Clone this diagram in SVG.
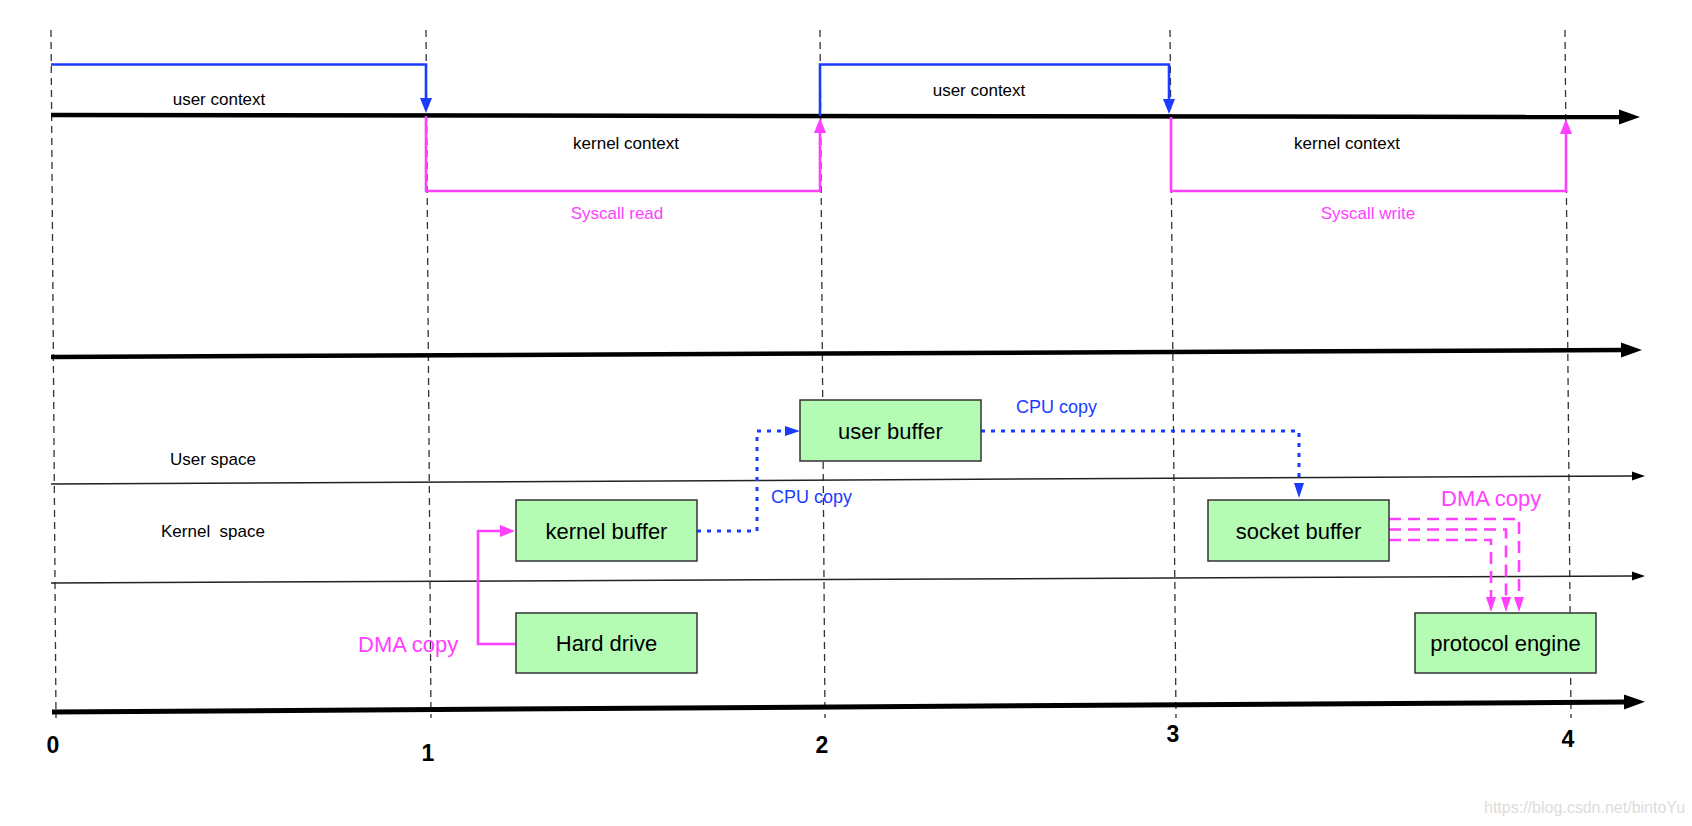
<svg xmlns="http://www.w3.org/2000/svg" width="1692" height="826" viewBox="0 0 1692 826">
<style>
.vdash{stroke:#333;stroke-width:1.3;stroke-dasharray:7 5;fill:none}
.axis{stroke:#000;stroke-width:4.5;fill:none}
.thin{stroke:#222;stroke-width:1.5;fill:none}
.blue{stroke:#1b3cff;stroke-width:2.6;fill:none}
.pink{stroke:#ff40ff;stroke-width:2.6;fill:none}
.bdot{stroke:#1b3cff;stroke-width:3;stroke-dasharray:4 6;fill:none}
.pdash{stroke:#ff40ff;stroke-width:2.6;stroke-dasharray:12 7;fill:none}
.box{fill:#b4fbb4;stroke:#333;stroke-width:1.5}
.lbl{font-family:"Liberation Sans",Arial,sans-serif;font-size:22px;fill:#000;text-anchor:middle}
.ctx{font-family:"Liberation Sans",Arial,sans-serif;font-size:17px;fill:#000;text-anchor:middle;white-space:pre}
.pctx{font-family:"Liberation Sans",Arial,sans-serif;font-size:17px;fill:#ff40ff;text-anchor:middle}
.cpu{font-family:"Liberation Sans",Arial,sans-serif;font-size:18px;fill:#1b3cff}
.dma{font-family:"Liberation Sans",Arial,sans-serif;font-size:22px;fill:#ff40ff}
.num{font-family:"Liberation Sans",Arial,sans-serif;font-size:23px;font-weight:bold;fill:#000;text-anchor:middle}
.wm{font-family:"Liberation Sans",Arial,sans-serif;font-size:16px;fill:#dcdcdc}
</style>
<defs>
<marker id="aBig" markerUnits="userSpaceOnUse" markerWidth="22" markerHeight="16" refX="1" refY="8" orient="auto"><path d="M0,0.5 L21,8 L0,15.5 z" fill="#000"/></marker>
<marker id="aSmall" markerUnits="userSpaceOnUse" markerWidth="14" markerHeight="10" refX="1" refY="5" orient="auto"><path d="M0,0.5 L13,5 L0,9.5 z" fill="#000"/></marker>
<marker id="aBlue" markerUnits="userSpaceOnUse" markerWidth="16" markerHeight="13" refX="1" refY="6.5" orient="auto"><path d="M0,0.5 L15,6.5 L0,12.5 z" fill="#1b3cff"/></marker>
<marker id="aPink" markerUnits="userSpaceOnUse" markerWidth="16" markerHeight="13" refX="1" refY="6.5" orient="auto"><path d="M0,0.5 L15,6.5 L0,12.5 z" fill="#ff40ff"/></marker>
<marker id="aBlueS" markerUnits="userSpaceOnUse" markerWidth="16" markerHeight="11" refX="1" refY="5.5" orient="auto"><path d="M0,0.5 L15,5.5 L0,10.5 z" fill="#1b3cff"/></marker>
<marker id="aPinkS" markerUnits="userSpaceOnUse" markerWidth="16" markerHeight="11" refX="1" refY="5.5" orient="auto"><path d="M0,0.5 L15,5.5 L0,10.5 z" fill="#ff40ff"/></marker>
</defs>
<rect width="1692" height="826" fill="#fff"/>
<g id="time-marks">
<path class="vdash" d="M51,30 L56,718"/>
<path class="vdash" d="M426,30 L431,718"/>
<path class="vdash" d="M820,30 L825,718"/>
<path class="vdash" d="M1170,30 L1176,718"/>
<path class="vdash" d="M1565,30 L1571,718"/>
</g>
<g id="axes">
<path class="axis" d="M51,115 L1620,117" marker-end="url(#aBig)"/>
<path class="axis" d="M51,357 L1622,350" marker-end="url(#aBig)"/>
<path class="thin" d="M51,484 L1633,476" marker-end="url(#aSmall)"/>
<path class="thin" d="M51,583 L1633,576" marker-end="url(#aSmall)"/>
<path class="axis" style="stroke-width:5" d="M52,712 L1625,702" marker-end="url(#aBig)"/>
</g>
<g id="context-switches">
<path class="blue" d="M51,64.5 H426 V99" marker-end="url(#aBlue)"/>
<path class="pink" d="M426,116 V191 H820 V132" marker-end="url(#aPink)"/>
<path class="blue" d="M820,116 V64.5 H1169 V100" marker-end="url(#aBlue)"/>
<path class="pink" d="M1171,117 V191 H1566 V133" marker-end="url(#aPink)"/>
</g>
<g id="context-labels">
<text class="ctx" x="219" y="105">user context</text>
<text class="ctx" x="626" y="149">kernel context</text>
<text class="pctx" x="617" y="219">Syscall read</text>
<text class="ctx" x="979" y="96">user context</text>
<text class="ctx" x="1347" y="149">kernel context</text>
<text class="pctx" x="1368" y="219">Syscall write</text>
<text class="ctx" x="213" y="465">User space</text>
<text class="ctx" x="213" y="537">Kernel  space</text>
</g>
<g id="connectors">
<path class="pink" d="M516,644 H478 V531 H501" marker-end="url(#aPink)"/>
<path class="bdot" d="M697,531 H757 V431 H786" marker-end="url(#aBlueS)"/>
<path class="bdot" d="M981,431 H1299 V484" marker-end="url(#aBlueS)"/>
<path class="pdash" d="M1389,519 H1519 V598" marker-end="url(#aPinkS)"/>
<path class="pdash" d="M1389,529.5 H1506 V598" marker-end="url(#aPinkS)"/>
<path class="pdash" d="M1389,540 H1491 V598" marker-end="url(#aPinkS)"/>
<text class="cpu" x="771" y="503">CPU copy</text>
<text class="cpu" x="1016" y="412.5">CPU copy</text>
<text class="dma" x="358" y="652">DMA copy</text>
<text class="dma" x="1441" y="506">DMA copy</text>
</g>
<g id="user-buffer">
<rect class="box" x="800" y="400" width="181" height="61"/>
<text class="lbl" x="890.5" y="438.5">user buffer</text>
</g>
<g id="kernel-buffer">
<rect class="box" x="516" y="500" width="181" height="61"/>
<text class="lbl" x="606.5" y="538.5">kernel buffer</text>
</g>
<g id="hard-drive">
<rect class="box" x="516" y="613" width="181" height="60"/>
<text class="lbl" x="606.5" y="651">Hard drive</text>
</g>
<g id="socket-buffer">
<rect class="box" x="1208" y="500" width="181" height="61"/>
<text class="lbl" x="1298.5" y="538.5">socket buffer</text>
</g>
<g id="protocol-engine">
<rect class="box" x="1415" y="613" width="181" height="60"/>
<text class="lbl" x="1505.5" y="651">protocol engine</text>
</g>
<g id="tick-labels">
<text class="num" x="53" y="753">0</text>
<text class="num" x="428" y="761">1</text>
<text class="num" x="822" y="753">2</text>
<text class="num" x="1173" y="742">3</text>
<text class="num" x="1568" y="747">4</text>
</g>
<text class="wm" x="1484" y="813">https://blog.csdn.net/bintoYu</text>
</svg>
